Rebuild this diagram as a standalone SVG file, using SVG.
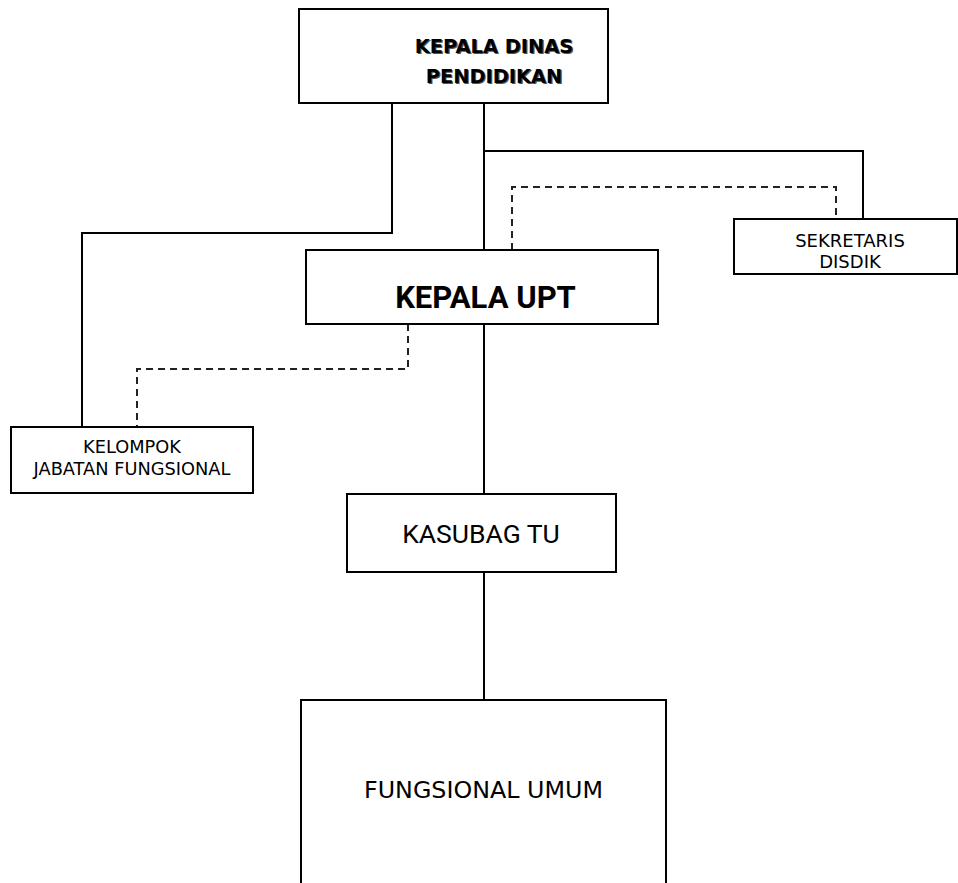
<svg xmlns="http://www.w3.org/2000/svg" width="958" height="883" viewBox="0 0 958 883">
<style>
.box{fill:#fff;stroke:#000;stroke-width:2}
.ln{fill:none;stroke:#000;stroke-width:2}
.dash{fill:none;stroke:#222;stroke-width:2;stroke-dasharray:7 5}
.t{font-family:"DejaVu Sans",Verdana,sans-serif;fill:#000;text-anchor:middle}
.tb{font-family:"DejaVu Sans",Verdana,sans-serif;font-weight:bold;text-anchor:middle;font-size:19.4px}
.r{font-family:Roboto,"Liberation Sans",Arial,sans-serif;fill:#000;text-anchor:middle}
</style>
<rect width="958" height="883" fill="#fff"/>
<g id="connectors">
<polyline class="ln" points="392,103 392,233 82,233 82,427"/>
<polyline class="ln" points="484,103 484,250"/>
<polyline class="ln" points="484,151 863,151 863,219"/>
<polyline class="dash" points="512,250 512,187 836,187 836,219"/>
<polyline class="dash" points="408,324 408,369 137,369 137,427"/>
<polyline class="ln" points="484,324 484,494"/>
<polyline class="ln" points="484,572 484,700"/>
</g>
<g id="kepala-dinas">
<rect class="box" x="299" y="9" width="309" height="94" stroke-width="2.5"/>
<text class="tb" x="495.2" y="54.2" fill="#555">KEPALA DINAS</text>
<text class="tb" x="495.2" y="84.2" fill="#555">PENDIDIKAN</text>
<text class="tb" x="494" y="53" fill="#000">KEPALA DINAS</text>
<text class="tb" x="494" y="83" fill="#000">PENDIDIKAN</text>
</g>
<g id="kepala-upt">
<rect class="box" x="306" y="250" width="352" height="74"/>
<text class="r" x="485.5" y="308" font-size="31" font-weight="bold">KEPALA UPT</text>
</g>
<g id="sekretaris">
<rect class="box" x="734" y="219" width="223" height="55"/>
<text class="t" x="850" y="247" font-size="18">SEKRETARIS</text>
<text class="t" x="850" y="268" font-size="18">DISDIK</text>
</g>
<g id="kelompok">
<rect class="box" x="11" y="427" width="242" height="66"/>
<text class="t" x="132" y="453" font-size="17.8">KELOMPOK</text>
<text class="t" x="132" y="475" font-size="17.8">JABATAN FUNGSIONAL</text>
</g>
<g id="kasubag">
<rect class="box" x="347" y="494" width="269" height="78" stroke="#222"/>
<text class="r" x="481" y="543" font-size="26.5">KASUBAG TU</text>
</g>
<g id="fungsional">
<rect class="box" x="301" y="700" width="365" height="200" stroke="#222"/>
<text class="t" x="483.5" y="798" font-size="23.8">FUNGSIONAL UMUM</text>
</g>
</svg>
